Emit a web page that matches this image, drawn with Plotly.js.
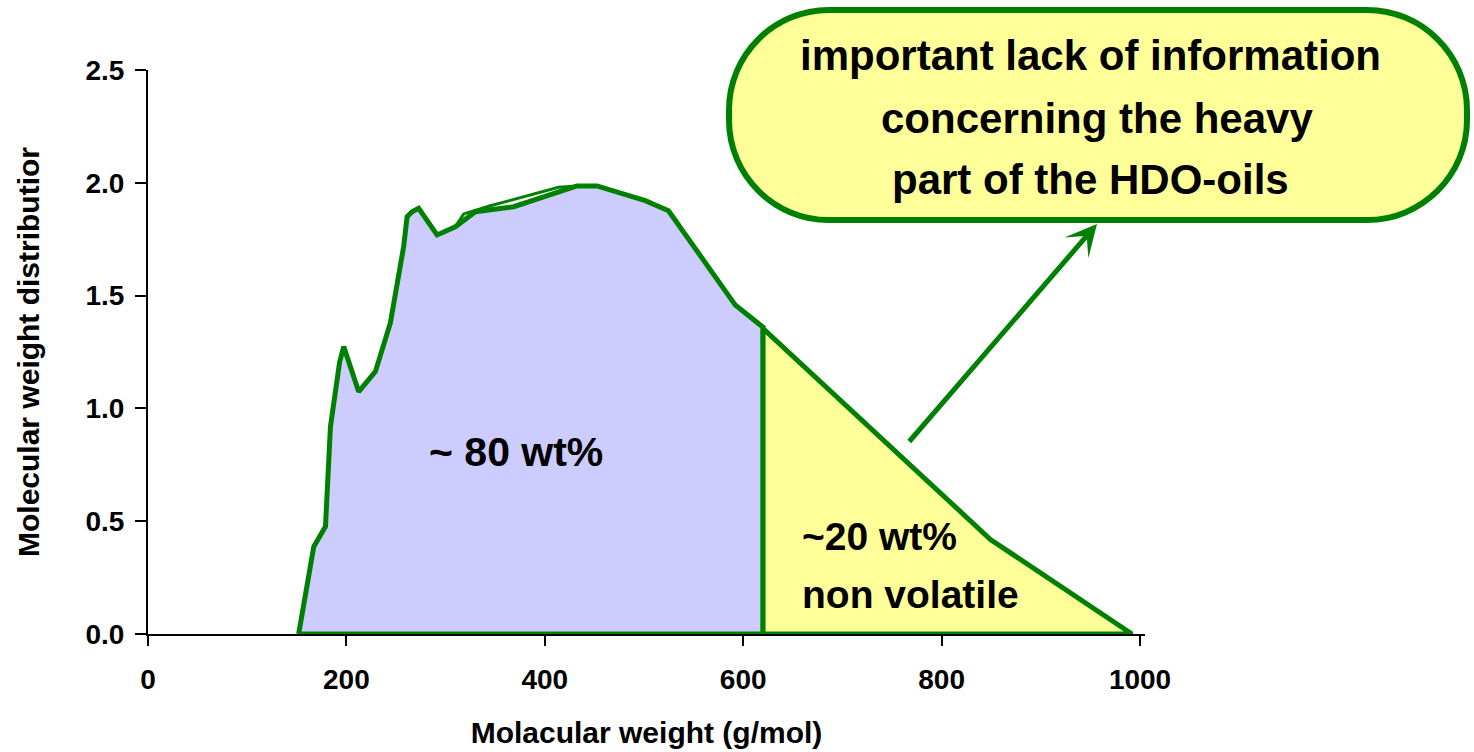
<!DOCTYPE html>
<html>
<head>
<meta charset="utf-8">
<script src="https://cdn.plot.ly/plotly-3.0.1.min.js"></script>
<style>html,body{margin:0;padding:0;background:#fff;}#chart{width:1474px;height:752px;}</style>
</head>
<body>
<div id="chart"></div>
<script>
// ---- data ----
const volatileMW = [151.9, 158.7, 167.1, 178.9, 183.9, 193.2, 197.3, 212.4, 229.2, 244.3, 257.7, 261.2, 266.2, 272.8, 291.4, 309.8, 330.0, 368.6, 395.5, 432.4, 452.6, 501.3, 524.7, 592.0, 620.0, 620.0, 151.9];
const volatileDist = [0, 0.165, 0.387, 0.476, 0.919, 1.206, 1.274, 1.074, 1.163, 1.379, 1.717, 1.850, 1.872, 1.887, 1.769, 1.805, 1.872, 1.894, 1.931, 1.986, 1.986, 1.921, 1.876, 1.458, 1.360, 0, 0];
const upperEdgeMW = [309.8, 318.2, 345.1, 365.2, 382.1, 402.2, 413.9, 432.4];
const upperEdgeDist = [1.805, 1.862, 1.898, 1.922, 1.944, 1.968, 1.980, 1.986];
const heavyMW = [620.0, 620.0, 849.2, 991.9, 620.0];
const heavyDist = [0, 1.354, 0.419, 0, 0];
const xTicks = [0, 200, 400, 600, 800, 1000];
const yTicks = [0, 0.5, 1.0, 1.5, 2.0, 2.5];
const yTickText = ['0.0', '0.5', '1.0', '1.5', '2.0', '2.5'];

const GREEN = '#008000';
const FONT = 'Liberation Sans, Arial, Helvetica, sans-serif';

// pixel -> paper helper for decorations (plot area: x 148..1145, y 70..634)
const L = 148, R = 1145, T = 70, B = 634;
const px = x => (x - L) / (R - L);
const py = y => (B - y) / (B - T);
const P = (x, y) => px(x).toFixed(5) + ',' + py(y).toFixed(5);

// rounded callout box path
const x0 = 729, x1 = 1467, y0 = 10, y1 = 220, r = 100, k = 0.5523 * r;
const boxPath =
  'M' + P(x0 + r, y0) + ' L' + P(x1 - r, y0) +
  ' C' + P(x1 - r + k, y0) + ' ' + P(x1, y0 + r - k) + ' ' + P(x1, y0 + r) +
  ' L' + P(x1, y1 - r) +
  ' C' + P(x1, y1 - r + k) + ' ' + P(x1 - r + k, y1) + ' ' + P(x1 - r, y1) +
  ' L' + P(x0 + r, y1) +
  ' C' + P(x0 + r - k, y1) + ' ' + P(x0, y1 - r + k) + ' ' + P(x0, y1 - r) +
  ' L' + P(x0, y0 + r) +
  ' C' + P(x0, y0 + r - k) + ' ' + P(x0 + r - k, y0) + ' ' + P(x0 + r, y0) + ' Z';

const traces = [
  {x: volatileMW, y: volatileDist, type: 'scatter', mode: 'lines', fill: 'toself',
   fillcolor: '#CCCCFF', line: {color: GREEN, width: 5}, hoverinfo: 'x+y', showlegend: false},
  {x: upperEdgeMW, y: upperEdgeDist, type: 'scatter', mode: 'lines',
   line: {color: GREEN, width: 3}, hoverinfo: 'skip', showlegend: false},
  {x: heavyMW, y: heavyDist, type: 'scatter', mode: 'lines', fill: 'toself',
   fillcolor: '#FFFF99', line: {color: GREEN, width: 5}, hoverinfo: 'x+y', showlegend: false}
];

const txt = (text, x, y, size, anchor) => ({
  text: text, xref: 'paper', yref: 'paper', x: px(x), y: py(y),
  xanchor: anchor || 'center', yanchor: 'middle', showarrow: false,
  font: {family: FONT, size: size, color: '#000', weight: 700}
});

const layout = {
  width: 1474, height: 752,
  margin: {l: L, r: 1474 - R, t: T, b: 752 - B},
  paper_bgcolor: '#fff', plot_bgcolor: '#fff',
  showlegend: false,
  font: {family: FONT, color: '#000'},
  xaxis: {
    range: [0, 1005], tickvals: xTicks, showgrid: false, zeroline: false,
    showline: true, linecolor: '#000', linewidth: 2, layer: 'below traces',
    ticks: 'outside', ticklen: 10, tickwidth: 2, tickcolor: '#000',
    tickfont: {family: FONT, size: 28, weight: 700, color: '#000'},
    ticklabelstandoff: 9,
    title: {text: 'Molacular weight (g/mol)', font: {family: FONT, size: 30, weight: 700, color: '#000'}, standoff: 28}
  },
  yaxis: {
    range: [0, 2.5], tickvals: yTicks, ticktext: yTickText, showgrid: false, zeroline: false,
    showline: true, linecolor: '#000', linewidth: 2, layer: 'below traces',
    ticks: 'outside', ticklen: 11, tickwidth: 2, tickcolor: '#000',
    tickfont: {family: FONT, size: 28, weight: 700, color: '#000'},
    ticklabelstandoff: 5,
    title: {text: 'Molecular weight distributior', font: {family: FONT, size: 30, weight: 700, color: '#000'}, standoff: 37}
  },
  shapes: [
    {type: 'path', xref: 'paper', yref: 'paper', path: boxPath,
     fillcolor: '#FFFF99', line: {color: GREEN, width: 6}, layer: 'above'}
  ],
  annotations: [
    txt('~ 80 wt%', 516, 452, 41),
    txt('~20 wt%', 800, 536, 39, 'left'),
    txt('non volatile', 800, 594, 39, 'left'),
    txt('important lack of information', 1090, 56, 42),
    txt('concerning the heavy', 1097, 118, 42),
    txt('part of the HDO-oils', 1090, 179, 42),
    {text: '', xref: 'paper', yref: 'paper', x: px(1097), y: py(224),
     ax: 908 - 1097, ay: 443 - 224, axref: 'pixel', ayref: 'pixel',
     showarrow: true, arrowhead: 3, arrowsize: 1.05, arrowwidth: 5, arrowcolor: GREEN}
  ]
};

Plotly.newPlot('chart', traces, layout, {displayModeBar: false, staticPlot: true});
</script>
</body>
</html>
